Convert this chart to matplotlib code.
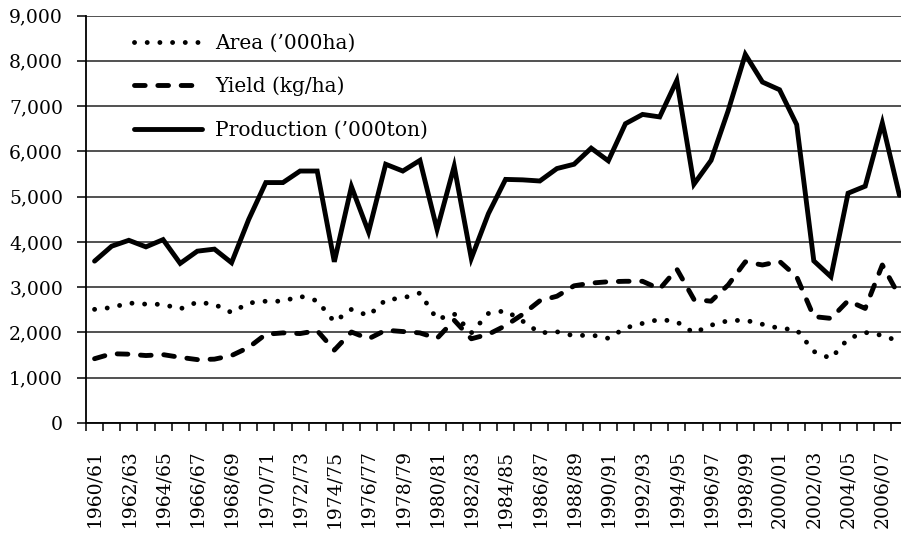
import matplotlib
matplotlib.use("Agg")
import matplotlib.pyplot as plt
from matplotlib.ticker import FuncFormatter

# crop years 1960/61 .. 2007/08
years = [f"{y}/{str(y + 1)[-2:]}" for y in range(1960, 2008)]

area = [2510, 2550, 2650, 2625, 2620, 2520, 2670, 2620, 2440, 2650,
        2690, 2690, 2800, 2700, 2235, 2510, 2370, 2720, 2760, 2870,
        2290, 2410, 1990, 2420, 2480, 2250, 1990, 2015, 1925, 1945,
        1870, 2100, 2200, 2290, 2235, 1990, 2160, 2260, 2270, 2180,
        2090, 2060, 1580, 1425, 1860, 2000, 1935, 1800]

yield_kg = [1420, 1530, 1520, 1490, 1510, 1450, 1400, 1410, 1490, 1670,
            1960, 1990, 1975, 2040, 1610, 2010, 1860, 2050, 2020, 1990,
            1870, 2270, 1860, 1960, 2150, 2400, 2700, 2800, 3030, 3090,
            3120, 3130, 3130, 2960, 3400, 2730, 2690, 3050, 3560, 3490,
            3570, 3230, 2350, 2310, 2700, 2530, 3490, 2800]

production = [3575, 3905, 4035, 3890, 4050, 3525, 3795, 3840, 3540, 4495,
              5310, 5310, 5565, 5565, 3560, 5220, 4220, 5715, 5565, 5800,
              4275, 5670, 3635, 4625, 5380, 5370, 5345, 5620, 5715, 6070,
              5790, 6610, 6815, 6760, 7565, 5275, 5800, 6900, 8140, 7530,
              7360, 6590, 3580, 3230, 5075, 5230, 6625, 5030]

plt.rcParams['font.family'] = ['DejaVu Serif']
plt.rcParams['font.size'] = 13.5

fig = plt.figure(figsize=(9.01, 5.33), dpi=100)
W, H = 901, 533
ax = fig.add_axes([86 / W, 110 / H, 822 / W, 407.5 / H])

x = list(range(len(years)))
lw = 3.5
ax.plot(x, area, color='black', lw=lw, linestyle=(0, (0.01, 2.6)),
        dash_capstyle='round', solid_capstyle='round', label="Area (\u2019000ha)")
ax.plot(x, yield_kg, color='black', lw=lw, linestyle=(0, (2.2, 2.6)),
        dash_capstyle='round', label="Yield (kg/ha)")
ax.plot(x, production, color='black', lw=lw, solid_joinstyle='miter',
        solid_capstyle='round', label="Production (\u2019000ton)")

ax.set_xlim(-0.5, len(years) - 0.5)
ax.set_ylim(0, 9000)
ax.set_yticks(range(0, 9001, 1000))
ax.yaxis.set_major_formatter(FuncFormatter(lambda v, p: f"{v:,.0f}"))
ax.grid(axis='y', color='#222222', lw=1.1)
ax.set_axisbelow(True)

# category boundaries as tick marks, labels every second year
ax.set_xticks([i - 0.5 for i in range(len(years) + 1)])
ax.set_xticklabels([])
ax.set_xticks(x[::2], minor=True)
ax.set_xticklabels(years[::2], minor=True, rotation=90)
ax.tick_params(axis='x', which='major', length=6, width=1.1, direction='out')
ax.tick_params(axis='x', which='minor', length=0, pad=19)
ax.tick_params(axis='y', length=6.5, width=1.1, pad=10)

for s in ['top', 'right']:
    ax.spines[s].set_visible(False)
for s in ['left', 'bottom']:
    ax.spines[s].set_linewidth(1.3)

ax.legend(loc='upper left', bbox_to_anchor=(0.036, 1.0), frameon=False,
          handlelength=3.4, handletextpad=0.65, labelspacing=1.2,
          fontsize=14.5)

fig.savefig('out.png', dpi=100)
